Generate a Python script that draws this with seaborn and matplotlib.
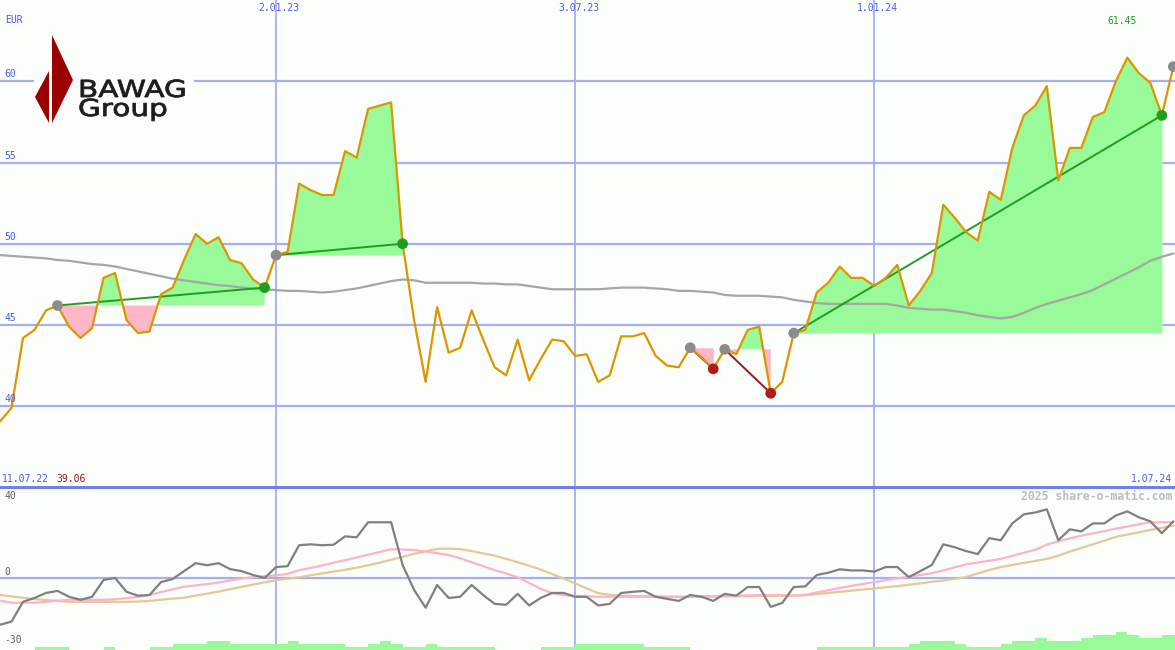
import numpy as np
import pandas as pd
import matplotlib
matplotlib.use("Agg")
import matplotlib.pyplot as plt
import matplotlib.transforms as mtransforms
from matplotlib.patches import Polygon, Rectangle, PathPatch
from matplotlib.textpath import TextPath
from matplotlib.font_manager import FontProperties
import seaborn as sns

## data (weekly closes)
dates = pd.date_range("2022-07-18", periods=103, freq="7D")

price = [39.06, 39.9, 44.2, 44.7, 45.9, 46.2, 44.9, 44.2, 44.8, 47.9,
         48.2, 45.3, 44.5, 44.6, 46.9, 47.3, 49.0, 50.6, 50.0, 50.4,
         49.0, 48.8, 47.8, 47.3, 49.3, 49.5, 53.7, 53.3, 53.0, 53.0,
         55.7, 55.3, 58.3, 58.5, 58.7, 50.0, 45.3, 41.5, 46.1, 43.3,
         43.6, 45.9, 44.1, 42.4, 41.9, 44.1, 41.6, 42.9, 44.1, 44.0,
         43.1, 43.2, 41.5, 41.9, 44.3, 44.3, 44.5, 43.1, 42.5, 42.4,
         43.6, 43.0, 42.3, 43.5, 43.2, 44.7, 44.9, 40.8, 41.5, 44.5,
         44.7, 47.0, 47.6, 48.6, 47.9, 47.9, 47.4, 47.9, 48.7, 46.2,
         47.1, 48.2, 52.4, 51.6, 50.7, 50.2, 53.2, 52.7, 55.9, 57.9,
         58.5, 59.7, 53.9, 55.9, 55.9, 57.8, 58.1, 60.0, 61.45, 60.5,
         59.9, 57.9, 60.9]

ma_long = [49.3, 49.25, 49.2, 49.15, 49.1, 49.0, 48.95, 48.85, 48.75, 48.7,
           48.6, 48.45, 48.3, 48.15, 48.0, 47.85, 47.75, 47.65, 47.55, 47.45,
           47.4, 47.3, 47.25, 47.2, 47.15, 47.1, 47.1, 47.05, 47.0, 47.05,
           47.15, 47.25, 47.4, 47.55, 47.7, 47.8, 47.75, 47.6, 47.6, 47.6,
           47.6, 47.6, 47.55, 47.55, 47.5, 47.5, 47.4, 47.3, 47.2, 47.2,
           47.2, 47.2, 47.2, 47.25, 47.3, 47.3, 47.3, 47.25, 47.2, 47.1,
           47.1, 47.05, 47.0, 46.85, 46.8, 46.8, 46.8, 46.75, 46.7, 46.55,
           46.45, 46.35, 46.3, 46.3, 46.3, 46.3, 46.3, 46.3, 46.2, 46.05,
           46.0, 45.95, 45.95, 45.85, 45.75, 45.6, 45.5, 45.4, 45.5, 45.75,
           46.05, 46.3, 46.5, 46.7, 46.9, 47.15, 47.5, 47.85, 48.2, 48.55,
           48.95, 49.2, 49.4]

momentum = [-20.4, -19.0, -10.3, -8.6, -6.4, -5.5, -8.1, -9.4, -8.1, -0.7,
            0.2, -5.9, -7.6, -7.3, -1.6, -0.3, 3.2, 6.7, 5.8, 6.7,
            4.1, 3.2, 1.5, 0.2, 5.0, 5.4, 14.6, 15.0, 14.6, 14.8,
            18.5, 18.1, 24.7, 24.7, 24.7, 5.9, -5.1, -12.9, -2.9, -8.6,
            -8.1, -2.9, -7.3, -11.2, -11.6, -6.8, -11.9, -8.6, -6.4, -6.4,
            -8.1, -8.1, -11.9, -11.2, -6.4, -5.9, -5.5, -8.1, -9.0, -9.9,
            -7.3, -8.1, -9.9, -6.8, -7.6, -3.8, -3.8, -12.5, -10.8, -3.8,
            -3.5, 1.5, 2.5, 4.0, 3.5, 3.5, 3.0, 5.0, 5.0, 0.6,
            3.2, 5.9, 15.0, 13.7, 12.0, 10.7, 17.7, 16.8, 24.2, 28.2,
            29.0, 30.4, 16.8, 21.6, 20.7, 24.2, 24.2, 27.7, 29.5, 26.9,
            25.1, 19.9, 25.1]

mom_fast = [-9.8, -10.7, -10.7, -10.7, -10.3, -9.8, -9.4, -9.4, -9.4, -9.4,
            -9.2, -8.7, -8.1, -7.3, -6.0, -4.8, -3.7, -3.1, -2.5, -1.8,
            -0.9, -0.1, 0.6, 1.0, 1.3, 2.0, 3.6, 4.6, 5.7, 6.9,
            8.0, 9.2, 10.4, 11.6, 12.8, 12.7, 12.5, 11.8, 11.1, 10.3,
            8.9, 7.1, 5.4, 3.6, 2.2, 0.5, -2.0, -4.6, -6.5, -7.4,
            -7.7, -7.9, -8.1, -8.1, -8.1, -8.1, -8.1, -8.1, -8.1, -8.1,
            -8.0, -7.9, -7.8, -7.7, -7.6, -7.5, -7.4, -7.3, -7.4, -7.5,
            -7.2, -6.2, -5.2, -4.2, -3.3, -2.5, -1.6, -0.8, 0.0, 0.8,
            1.5, 2.3, 3.5, 4.9, 6.2, 7.0, 7.8, 8.6, 9.9, 11.3,
            12.6, 14.9, 16.3, 17.6, 18.8, 19.8, 20.8, 21.9, 22.8, 23.8,
            24.7, 24.7, 24.7]

mom_slow = [-7.3, -7.9, -8.5, -9.1, -9.5, -9.9, -10.3, -10.3, -10.3, -10.3,
            -10.3, -10.3, -10.2, -9.9, -9.4, -8.9, -8.5, -7.6, -6.7, -5.8,
            -4.7, -3.7, -2.7, -1.7, -0.8, -0.1, 0.5, 1.4, 2.2, 3.0,
            3.8, 4.7, 5.8, 6.9, 8.2, 9.5, 10.8, 11.9, 13.0, 13.1,
            12.9, 12.0, 11.0, 10.0, 8.6, 7.1, 5.6, 3.9, 1.9, -0.1,
            -2.2, -4.4, -6.5, -7.2, -7.6, -7.7, -7.8, -7.9, -8.0, -8.1,
            -8.1, -8.0, -8.0, -7.9, -7.8, -7.8, -7.7, -7.7, -7.6, -7.6,
            -7.4, -6.9, -6.4, -5.9, -5.4, -4.9, -4.4, -3.9, -3.4, -2.8,
            -2.2, -1.5, -0.9, -0.2, 0.6, 2.2, 3.7, 5.0, 5.9, 6.8,
            7.7, 8.6, 10.0, 11.8, 13.4, 15.0, 16.6, 18.3, 19.3, 20.3,
            21.3, 22.3, 23.2]

# volume in small steps (bars at the bottom of the lower panel)
volume = [0, 0, 0, 1, 1, 1, 0, 0, 0, 1,
          0, 0, 0, 1, 1, 2, 2, 2, 3, 3,
          2, 2, 2, 2, 2, 3, 2, 2, 2, 2,
          1, 1, 2, 3, 2, 1, 1, 2, 1, 1,
          1, 1, 1, 0, 0, 0, 0, 1, 1, 1,
          2, 2, 2, 2, 2, 2, 1, 1, 1, 1,
          0, 0, 0, 0, 0, 0, 0, 0, 0, 0,
          0, 1, 1, 1, 1, 1, 1, 1, 1, 2,
          3, 3, 3, 2, 1, 1, 1, 2, 3, 3,
          4, 3, 3, 3, 4, 5, 5, 6, 5, 4,
          4, 5, 5]

# trend segments as (start index, end index)
trend_up = [(5, 23), (24, 35), (69, 101)]
trend_down = [(60, 62), (63, 67)]
open_trend = 102

tick_dates = pd.to_datetime(["2023-01-02", "2023-07-03", "2024-01-01"])
tick_labels = ["2.01.23", "3.07.23", "1.01.24"]
price_ticks = [40, 45, 50, 55, 60]
osc_ticks = [40, 0, -30]
start_label = "11.07.22"
end_label = "1.07.24"
low_label = "39.06"
high_label = "61.45"

# colours
BG = "#fcfefc"
GRID = "#a4b0f0"
SEP = "#7080ec"
BLUE = "#4a5cf0"
ORANGE = "#dc9600"
GREEN_FILL = "#98fa98"
PINK_FILL = "#ffb6c6"
GREEN = "#1f9e1f"
DARKRED = "#a01818"

sns.set_style("white")
plt.rcParams["font.family"] = ["DejaVu Sans Mono"]

fig = plt.figure(figsize=(11.75, 6.5), dpi=100, facecolor=BG)
ax = fig.add_axes([0, 0.25, 1, 0.75], facecolor=BG)
ax2 = fig.add_axes([0, 0, 1, 0.25], facecolor=BG, sharex=ax)

xlim = (dates[0], dates[-1] + pd.Timedelta(days=1))
for a in (ax, ax2):
    a.set_xlim(xlim)
    for s in a.spines.values():
        s.set_visible(False)
    for d in tick_dates:
        a.axvline(d, color=GRID, lw=1.3, zorder=0)

ax.set_ylim(35, 65)
ax2.set_ylim(-31.5, 40)

## upper panel
for v in price_ticks:
    ax.axhline(v, color=GRID, lw=1.6, zorder=0)

# trend fills against the level of the starting point
price_arr = np.array(price)
for s, e in trend_up + trend_down:
    xs = dates[s:e + 1]
    ys = price_arr[s:e + 1]
    lvl = price[s]
    ax.fill_between(xs, ys, lvl, where=ys >= lvl, interpolate=True,
                    color=GREEN_FILL, lw=0, zorder=1)
    ax.fill_between(xs, ys, lvl, where=ys <= lvl, interpolate=True,
                    color=PINK_FILL, lw=0, zorder=1)

sns.lineplot(x=dates, y=ma_long, ax=ax, color="#a6a6a6", lw=1.6, zorder=2)

for s, e in trend_up:
    sns.lineplot(x=[dates[s], dates[e]], y=[price[s], price[e]], ax=ax,
                 color=GREEN, lw=1.4, zorder=3)
for s, e in trend_down:
    sns.lineplot(x=[dates[s], dates[e]], y=[price[s], price[e]], ax=ax,
                 color=DARKRED, lw=1.4, zorder=3)

sns.lineplot(x=dates, y=price, ax=ax, color=ORANGE, lw=1.6, zorder=4)

starts = [s for s, e in trend_up + trend_down] + [open_trend]
sns.scatterplot(x=dates[starts], y=price_arr[starts], ax=ax, color="#8c8c8c",
                s=60, edgecolor="none", zorder=5)
ups = [e for s, e in trend_up]
sns.scatterplot(x=dates[ups], y=price_arr[ups], ax=ax, color=GREEN,
                s=60, edgecolor="none", zorder=5)
downs = [e for s, e in trend_down]
sns.scatterplot(x=dates[downs], y=price_arr[downs], ax=ax, color="#b01c1c",
                s=60, edgecolor="none", zorder=5)

yt = mtransforms.blended_transform_factory(ax.transAxes, ax.transData)
for v in price_ticks:
    ax.text(0.004, v + 0.12, str(v), transform=yt, va="bottom", ha="left",
            color=BLUE, fontsize=7, zorder=6)
xt = mtransforms.blended_transform_factory(ax.transData, ax.transAxes)
for d, lab in zip(tick_dates, tick_labels):
    ax.text(d + pd.Timedelta(days=2), 0.994, lab, transform=xt, ha="center",
            va="top", color=BLUE, fontsize=7, zorder=6)
imax = int(np.argmax(price_arr))
ax.text(dates[imax] - pd.Timedelta(days=3), 0.957, high_label, transform=xt,
        ha="center", va="center", color=GREEN, fontsize=7, zorder=6)

## lower panel
ax2.axhline(0, color=GRID, lw=1.6, zorder=0)
ax2.axhline(40, color=SEP, lw=2.2, zorder=6, clip_on=False)
ax2.bar(dates, np.array(volume) * 1.32, width=7, align="edge", bottom=-31.5,
        color=GREEN_FILL, lw=0, zorder=1)
sns.lineplot(x=dates, y=mom_slow, ax=ax2, color="#e4c896", lw=1.6, zorder=2)
sns.lineplot(x=dates, y=mom_fast, ax=ax2, color="#ffb2c8", lw=1.6, zorder=3)
sns.lineplot(x=dates, y=momentum, ax=ax2, color="#808080", lw=1.6, zorder=4)

yt2 = mtransforms.blended_transform_factory(ax2.transAxes, ax2.transData)
for v in osc_ticks:
    ax2.text(0.004, v - 1.5 if v == 40 else v + 0.8, str(v), transform=yt2,
             va="top" if v == 40 else "bottom", ha="left",
             color="#606060", fontsize=7, zorder=6)

for a in (ax, ax2):
    a.set_xticks([])
    a.set_yticks([])
    a.set_xlabel("")
    a.set_ylabel("")

## overlay in pixel units for the logo and corner labels
ov = fig.add_axes([0, 0, 1, 1])
ov.set_xlim(0, 1175)
ov.set_ylim(650, 0)
ov.axis("off")
ov.patch.set_alpha(0)

ov.text(5, 20, "EUR", color=BLUE, fontsize=7, va="center", ha="left")
ov.text(2, 479, start_label, color=BLUE, fontsize=7, va="center", ha="left")
ov.text(56, 479, low_label, color=DARKRED, fontsize=7, va="center", ha="left")
ov.text(1172, 479, end_label, color=BLUE, fontsize=7, va="center", ha="right")
ov.text(1172, 496, "2025 share-o-matic.com", color="#bdbdbd", fontsize=8.3,
        fontweight="bold", va="center", ha="right")

# logo
ov.add_patch(Rectangle((34, 33), 160, 92, fc=BG, ec="none"))
ov.add_patch(Polygon([(52, 35), (73, 80), (52, 123)], closed=True,
                     fc="#990000", ec="none"))
ov.add_patch(Polygon([(49, 71), (35, 97), (49, 123)], closed=True,
                     fc="#990000", ec="none"))
fp = FontProperties(family="DejaVu Sans")
for word, x0, base in [("BAWAG", 78, 97), ("Group", 78, 116)]:
    tp = TextPath((0, 0), word, size=1, prop=fp)
    tr = mtransforms.Affine2D().scale(29.5, -23.5).translate(x0, base) + ov.transData
    ov.add_patch(PathPatch(tp, transform=tr, fc="#1c1c1c", ec="#1c1c1c", lw=0.6))

plt.savefig("out.png", dpi=100, facecolor=BG)
